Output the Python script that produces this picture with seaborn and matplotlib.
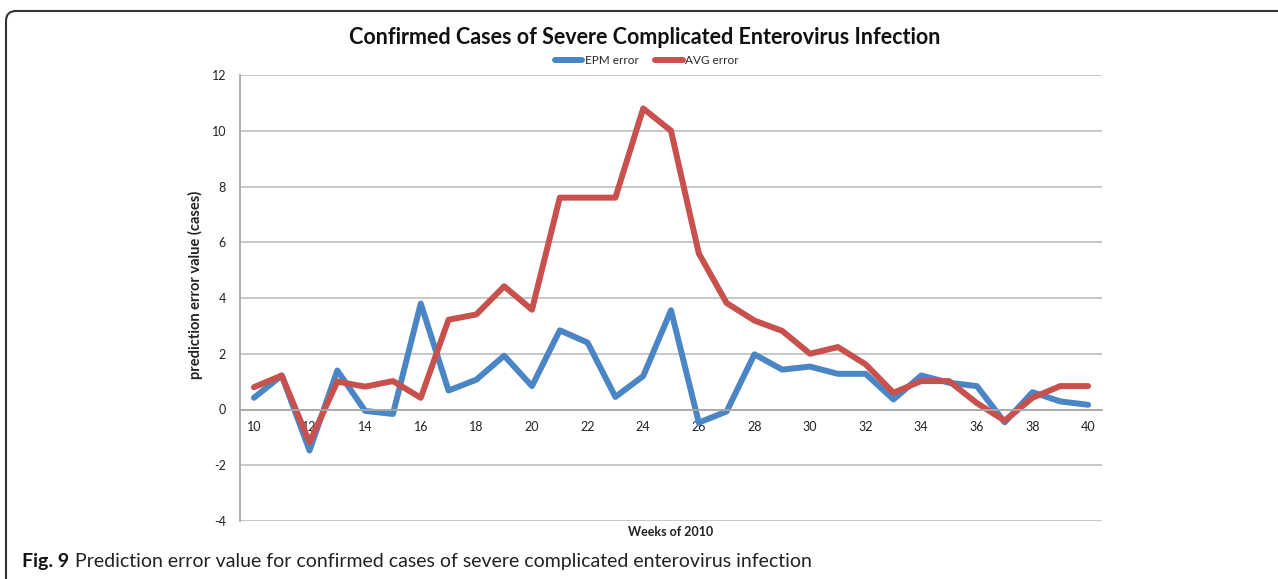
import pandas as pd
import matplotlib.pyplot as plt
import seaborn as sns
from matplotlib.lines import Line2D
from matplotlib.patches import FancyBboxPatch

weeks = list(range(10, 41))
epm_error = [0.42, 1.22, -1.47, 1.40, -0.05, -0.16, 3.80, 0.68, 1.07, 1.93,
             0.84, 2.84, 2.40, 0.45, 1.20, 3.56, -0.47, -0.07, 1.98, 1.43,
             1.54, 1.28, 1.28, 0.36, 1.22, 0.96, 0.84, -0.46, 0.62, 0.29, 0.17]
avg_error = [0.80, 1.22, -1.18, 1.00, 0.82, 1.02, 0.42, 3.22, 3.41, 4.42,
             3.58, 7.60, 7.60, 7.60, 10.80, 10.00, 5.60, 3.82, 3.19, 2.82,
             2.00, 2.24, 1.62, 0.60, 1.02, 1.02, 0.23, -0.40, 0.42, 0.84, 0.84]
series_names = ['EPM error', 'AVG error']
colors = ['#4a86c5', '#c8504d']

title = 'Confirmed Cases of Severe Complicated Enterovirus Infection'
ylabel = 'prediction error value (cases)'
xlabel = 'Weeks of 2010'

df = pd.DataFrame({'week': weeks, 'EPM error': epm_error, 'AVG error': avg_error})
df = df.melt(id_vars='week', var_name='series', value_name='value')

sns.set_style('white')
plt.rcParams['font.family'] = ['Lato', 'DejaVu Sans']
plt.rcParams['axes.unicode_minus'] = False

fig = plt.figure(figsize=(12.78, 5.79), dpi=100)
ax = fig.add_axes([240 / 1278, 1 - 521 / 579, 862 / 1278, 446 / 579])

sns.lineplot(data=df, x='week', y='value', hue='series', hue_order=series_names,
             palette=colors, linewidth=4.3, legend=False, ax=ax,
             solid_capstyle='round', solid_joinstyle='round')

ax.set_xlim(9.5, 40.5)
ax.set_ylim(-4, 12)
ax.set_yticks(range(-4, 13, 2))
ax.yaxis.grid(True, color='#c4c4c4', lw=1.3)
ax.xaxis.grid(False)
ax.set_axisbelow(True)

# x axis sits on the zero line, ticks between categories
ax.set_xticks(range(10, 41, 2))
ax.set_xticks([w - 0.5 for w in weeks] + [40.5], minor=True)
ax.spines['bottom'].set_position(('data', 0))
ax.spines['bottom'].set_color('#a8a8a8')
ax.spines['bottom'].set_linewidth(1.3)
ax.spines['left'].set_color('#a8a8a8')
ax.spines['left'].set_linewidth(1.3)
ax.spines['top'].set_visible(False)
ax.spines['right'].set_visible(False)
ax.tick_params(axis='x', which='major', length=0, pad=8, labelsize=9, labelcolor='#222222')
ax.tick_params(axis='x', which='minor', length=4, width=1, color='#a8a8a8', direction='out')
ax.tick_params(axis='y', length=4, width=1, color='#a8a8a8', direction='out', pad=6,
               labelsize=9, labelcolor='#222222')
ax.set_xlabel('')
ax.set_ylabel(ylabel, fontsize=10.5, fontweight='bold', color='#222222')
ax.yaxis.set_label_coords(-0.043, 0.53)
ax.text(0.5, -0.025, xlabel, transform=ax.transAxes, ha='center', va='center',
        fontsize=9, fontweight='bold', color='#222222')

fig.text(645 / 1278, 1 - 38 / 579, title, ha='center', va='center',
         fontsize=15.5, fontweight='bold', color='#111111')

handles = [Line2D([], [], color=c, lw=4.3, solid_capstyle='round') for c in colors]
fig.legend(handles, series_names, loc='center', bbox_to_anchor=(647 / 1278, 1 - 61 / 579),
           ncol=2, frameon=False, fontsize=8.5, handlelength=2.3, handletextpad=0.25,
           columnspacing=1.4, borderpad=0)

# figure frame and caption
frame = FancyBboxPatch((0.06, -0.3), 13.5, 5.79 - 0.11 + 0.3,
                       boxstyle='round,pad=0,rounding_size=0.1',
                       transform=fig.dpi_scale_trans, fill=False,
                       edgecolor='#333333', lw=1.5)
fig.add_artist(frame)

t1 = fig.text(22 / 1278, 1 - 567 / 579, 'Fig. 9', ha='left', va='baseline',
              fontsize=14, fontweight='bold', color='#111111')
fig.canvas.draw()
bb = t1.get_window_extent()
fig.text((bb.x1 + 6) / 1278, 1 - 567 / 579,
         'Prediction error value for confirmed cases of severe complicated enterovirus infection',
         ha='left', va='baseline', fontsize=14, color='#222222')

fig.savefig('out.png', dpi=100)
